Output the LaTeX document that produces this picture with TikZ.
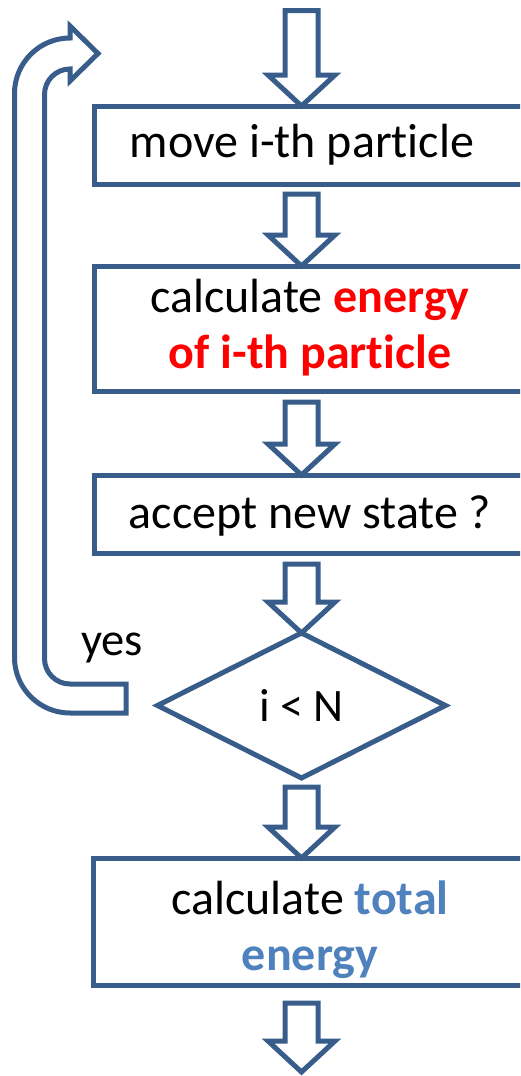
\documentclass[tikz,border=0pt]{standalone}
\usepackage{fontspec}
\setmainfont{Carlito}[Ligatures={NoCommon}]
\usetikzlibrary{shapes.geometric,calc}
\definecolor{outl}{HTML}{385D8A}
\definecolor{accblue}{HTML}{4F81BD}
\definecolor{hired}{HTML}{FF0000}
\tikzset{
  every node/.style={font=\fontsize{48}{56}\selectfont},
  boxnode/.style={draw=outl, line width=5pt, rectangle, inner sep=0pt, outer sep=0pt, minimum width=450.5pt},
  decision/.style={draw=outl, line width=5pt, diamond, inner sep=0pt, outer sep=0pt, minimum width=288pt, minimum height=145pt},
  txt/.style={align=center, inner sep=0pt, anchor=base},
  barrowstyle/.style={draw=outl, line width=5pt, fill=white, line join=miter},
  loopstyle/.style={draw=outl, line width=5pt, fill=white, line join=miter}
}
\newcommand\barrow[2]{%
  \draw[barrowstyle] let \p1=(#1), \p2=(#2) in
    (\x1-16.5pt,\y1) -- (\x1+16.5pt,\y1) -- (\x1+16.5pt,\y2+31pt) -- (\x1+33.5pt,\y2+31pt)
    -- (\x2,\y2) -- (\x1-33.5pt,\y2+31pt) -- (\x1-16.5pt,\y2+31pt) -- cycle;}
\begin{document}
\begin{tikzpicture}[x=1pt,y=-1pt]
\useasboundingbox (0,0) rectangle (520,1076);
\clip (0,0) rectangle (520,1076);
% boxes
\node[boxnode, minimum height=78pt] (b1) at (319.75,145) {};
\node[boxnode, minimum height=125pt] (b2) at (319.75,328.5) {};
\node[boxnode, minimum height=78pt] (b3) at (319.75,514) {};
\node[decision] (d) at (301.5,705.5) {\fontsize{46.5}{56}\selectfont i < N};
\node[boxnode, minimum height=127pt, minimum width=451.5pt] (b4) at (319.25,921.5) {};
% texts (base anchor = baseline of the last line)
\node[txt] (t1) at (302,157) {move i-th particle};
\node[txt] (t2) at (310,368) {calculate \textcolor{hired}{\bfseries energy}\\\textcolor{hired}{\bfseries of i-th particle}};
\node[txt] (t3) at (310,528) {accept new state ?};
\node[txt] (t4) at (310,970) {calculate \textcolor{accblue}{\bfseries total}\\\textcolor{accblue}{\bfseries energy}};
\node[txt, font=\fontsize{46.5}{56}\selectfont] (yes) at (112,655) {yes};
% axis for arrows
\coordinate (ax) at (301.5,0);
\coordinate (top) at (301.5,10.5);
\coordinate (bottom) at (301.5,1072);
\barrow{top}{ax |- b1.north}
\barrow{$(ax |- b1.south)+(0,10)$}{ax |- b2.north}
\barrow{$(ax |- b2.south)+(0,11)$}{ax |- b3.north}
\barrow{$(ax |- b3.south)+(0,11)$}{d.north}
\barrow{$(d.south)+(0,9)$}{ax |- b4.north}
\barrow{$(ax |- b4.south)+(0,18)$}{bottom}
% loop back arrow (yes)
\draw[loopstyle] (126,684) -- (70,684)
  .. controls (55.9,684) and (44.5,672.6) .. (44.5,658.5)
  -- (44.5,94.5)
  .. controls (44.5,80.4) and (55.9,69) .. (70,69)
  -- (70,81) -- (98,53.5) -- (70,26) -- (70,38)
  .. controls (39.35,38) and (14.5,62.85) .. (14.5,93.5)
  -- (14.5,657.5)
  .. controls (14.5,688.15) and (39.35,713) .. (70,713)
  -- (126,713) -- cycle;
\end{tikzpicture}
\end{document}
